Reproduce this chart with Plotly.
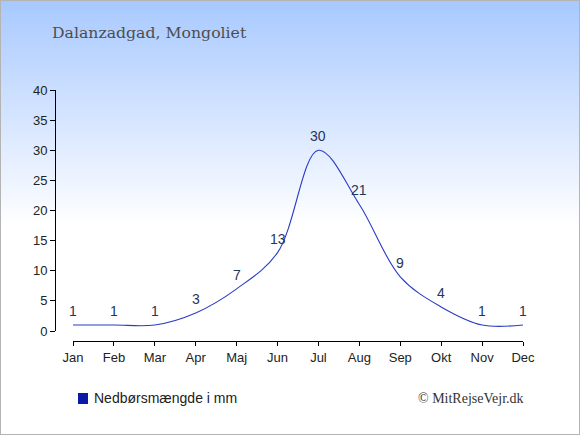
import plotly.graph_objects as go

months = ['Jan', 'Feb', 'Mar', 'Apr', 'Maj', 'Jun', 'Jul', 'Aug', 'Sep', 'Okt', 'Nov', 'Dec']
rain_mm = [1, 1, 1, 3, 7, 13, 30, 21, 9, 4, 1, 1]
y_ticks = [0, 5, 10, 15, 20, 25, 30, 35, 40]

W, H = 580, 435


def px_x(p):
    return p / W


def px_y(p):
    return (H - p) / H


def blend(c1, c2, t):
    return 'rgb(%d,%d,%d)' % tuple(round(a + (b - a) * t) for a, b in zip(c1, c2))


fig = go.Figure()
fig.add_trace(go.Scatter(
    x=months, y=rain_mm, mode='lines',
    line=dict(color='#2b3bc8', width=1.1, shape='spline', smoothing=1.0),
    showlegend=False, hoverinfo='x+y',
))

# value labels sit a bit above each point
labels = [dict(x=m, y=v, text=str(v), xref='x', yref='y', showarrow=False,
               yshift=14, font=dict(family='Liberation Sans, Arial', size=14, color='#263659'))
          for m, v in zip(months, rain_mm)]

# background gradient, light blue at top fading to white
shapes = []
top, bottom = (168, 201, 255), (255, 255, 255)
band = 3
fade_end = 225
for y0 in range(0, fade_end, band):
    shapes.append(dict(type='rect', xref='paper', yref='paper', layer='below',
                       x0=0, x1=1, y0=px_y(y0 + band), y1=px_y(y0),
                       line=dict(width=0),
                       fillcolor=blend(top, bottom, y0 / fade_end)))
shapes.append(dict(type='rect', xref='paper', yref='paper', x0=0, x1=1, y0=0, y1=1,
                   line=dict(color='#b4b4b4', width=2)))
# legend swatch
shapes.append(dict(type='rect', xref='paper', yref='paper',
                   x0=px_x(78), x1=px_x(88), y0=px_y(404), y1=px_y(393),
                   fillcolor='#0a1aa8', line=dict(width=0)))

tick_font = dict(family='Liberation Sans, Arial', size=13, color='#222')

fig.update_layout(
    width=W, height=H,
    margin=dict(l=0, r=0, t=0, b=0),
    paper_bgcolor='white', plot_bgcolor='rgba(0,0,0,0)',
    shapes=shapes,
    xaxis=dict(domain=[px_x(73), px_x(523)], range=[0, 11], anchor='free',
               position=px_y(341), automargin=False, showline=True, linecolor='black',
               linewidth=1, ticks='outside', ticklen=4, tickcolor='black', showgrid=False,
               zeroline=False, tickfont=tick_font),
    yaxis=dict(domain=[px_y(331), px_y(90)], range=[0, 40], anchor='free',
               position=px_x(55), automargin=False, tickvals=y_ticks, showline=True,
               linecolor='black', linewidth=1, ticks='outside', ticklen=5, tickcolor='black',
               showgrid=False, zeroline=False, tickfont=tick_font),
    annotations=labels + [
        dict(text='Dalanzadgad, Mongoliet', xref='paper', yref='paper',
             x=px_x(50), y=px_y(32), xanchor='left', yanchor='middle', showarrow=False,
             font=dict(family='DejaVu Serif', size=15.7, color='#4d4d4d')),
        dict(text='Nedbørsmængde i mm',
             xref='paper', yref='paper', x=px_x(92), y=px_y(398),
             xanchor='left', yanchor='middle', showarrow=False,
             font=dict(family='Liberation Sans, Arial', size=14, color='#222')),
        dict(text='© MitRejseVejr.dk', xref='paper', yref='paper',
             x=px_x(526), y=px_y(398), xanchor='right', yanchor='middle', showarrow=False,
             font=dict(family='Liberation Serif', size=14, color='#333')),
    ],
)

# drop the page's default body margin so the figure fills the window
fig.write_html('out.html', config={'displayModeBar': False},
               post_script="document.body.style.margin='0';")
